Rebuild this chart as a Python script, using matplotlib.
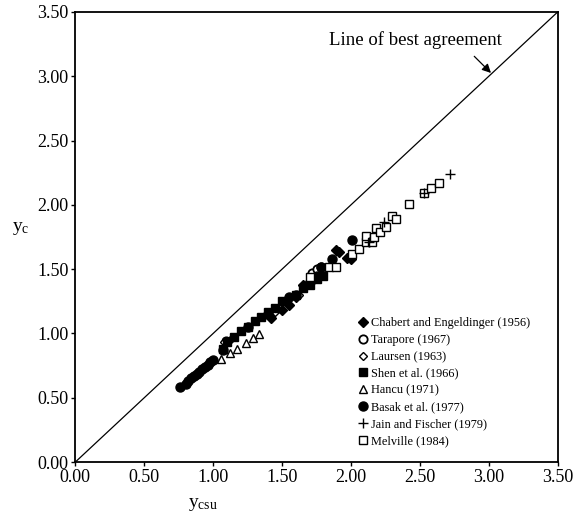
import matplotlib
matplotlib.use("Agg")
import matplotlib.pyplot as plt

plt.rcParams['font.family'] = ['Liberation Serif', 'DejaVu Serif']
plt.rcParams['mathtext.default'] = 'regular'

# ---- data (y_csu, y_c) ----
chabert_x = [1.42, 1.50, 1.55, 1.60, 1.65, 1.70, 1.89, 1.91, 1.97, 2.00]
chabert_y = [1.12, 1.18, 1.22, 1.28, 1.38, 1.40, 1.65, 1.63, 1.59, 1.58]

tarapore_x = [1.09, 1.72, 1.75, 1.78]
tarapore_y = [0.94, 1.47, 1.50, 1.52]

laursen_x = [1.08, 1.12, 1.45, 1.62]
laursen_y = [0.93, 0.95, 1.17, 1.30]

shen_x = [1.07, 1.10, 1.15, 1.20, 1.25, 1.30, 1.35, 1.40, 1.45, 1.50, 1.60, 1.65, 1.70, 1.75, 1.80]
shen_y = [0.88, 0.93, 0.97, 1.02, 1.05, 1.10, 1.13, 1.17, 1.20, 1.25, 1.30, 1.35, 1.38, 1.42, 1.45]

hancu_x = [1.06, 1.12, 1.175, 1.235, 1.29, 1.33]
hancu_y = [0.80, 0.845, 0.876, 0.928, 0.967, 0.998]

basak_x = [0.76, 0.80, 0.82, 0.84, 0.86, 0.88, 0.90, 0.92, 0.94, 0.96, 0.98, 1.00,
           1.07, 1.25, 1.40, 1.55, 1.60, 1.70, 1.75, 1.78, 1.86, 2.01]
basak_y = [0.585, 0.61, 0.63, 0.65, 0.67, 0.685, 0.70, 0.72, 0.74, 0.755, 0.775, 0.79,
           0.87, 1.05, 1.15, 1.28, 1.30, 1.40, 1.45, 1.52, 1.58, 1.73]

jain_x = [2.13, 2.24, 2.53, 2.72]
jain_y = [1.71, 1.87, 2.09, 2.24]

melville_x = [1.70, 1.84, 1.89, 2.01, 2.06, 2.11, 2.11, 2.15, 2.17, 2.18, 2.21, 2.255,
              2.30, 2.33, 2.42, 2.53, 2.58, 2.64]
melville_y = [1.44, 1.52, 1.52, 1.615, 1.66, 1.71, 1.757, 1.71, 1.75, 1.82, 1.786, 1.825,
              1.91, 1.89, 2.006, 2.09, 2.13, 2.17]

labels = ['Chabert and Engeldinger (1956)', 'Tarapore (1967)', 'Laursen (1963)',
          'Shen et al. (1966)', 'Hancu (1971)', 'Basak et al. (1977)',
          'Jain and Fischer (1979)', 'Melville (1984)']

fig = plt.figure(figsize=(5.75, 5.18), dpi=100)
ax = fig.add_axes([0.131, 0.108, 0.839, 0.869])

ax.plot([0, 3.5], [0, 3.5], color='black', lw=0.9, zorder=1)

ms = 6
ax.plot(chabert_x, chabert_y, 'D', color='black', ms=ms - 1, ls='none', label=labels[0], zorder=3)
ax.plot(tarapore_x, tarapore_y, 'o', mfc='white', mec='black', mew=1.3, ms=ms, ls='none', label=labels[1], zorder=3)
ax.plot(laursen_x, laursen_y, 'D', mfc='white', mec='black', mew=1.0, ms=ms - 1.5, ls='none', label=labels[2], zorder=3)
ax.plot(shen_x, shen_y, 's', color='black', ms=ms, ls='none', label=labels[3], zorder=3)
ax.plot(hancu_x, hancu_y, '^', mfc='white', mec='black', mew=1.0, ms=ms, ls='none', label=labels[4], zorder=3)
ax.plot(basak_x, basak_y, 'o', color='black', ms=ms + 0.5, ls='none', label=labels[5], zorder=3)
ax.plot(jain_x, jain_y, '+', color='black', mew=1.0, ms=ms + 1, ls='none', label=labels[6], zorder=4)
ax.plot(melville_x, melville_y, 's', mfc='white', mec='black', mew=1.0, ms=ms - 0.5, ls='none', label=labels[7], zorder=3)

ax.set_xlim(0, 3.5)
ax.set_ylim(0, 3.5)
ticks = [0, 0.5, 1.0, 1.5, 2.0, 2.5, 3.0, 3.5]
ax.set_xticks(ticks)
ax.set_yticks(ticks)
ax.set_xticklabels([f'{t:.2f}' for t in ticks])
ax.set_yticklabels([f'{t:.2f}' for t in ticks])
ax.tick_params(direction='out', length=3, width=1, labelsize=13, pad=2)
for s in ax.spines.values():
    s.set_linewidth(1.3)

ax.set_xlabel(r'$y_{csu}$', fontsize=14, labelpad=2)
ax.set_ylabel(r'$y_{c}$', fontsize=14, rotation=0, labelpad=18)
ax.yaxis.set_label_coords(-0.113, 0.50)
ax.xaxis.set_label_coords(0.265, -0.075)

ax.annotate('Line of best agreement', xy=(3.03, 3.01), xytext=(1.84, 3.28),
            fontsize=13.5, va='center', ha='left')
ax.annotate('', xy=(3.03, 3.01), xytext=(2.88, 3.17),
            arrowprops=dict(arrowstyle='-|>', color='black', lw=0.9, mutation_scale=13))

leg = ax.legend(loc='lower left', bbox_to_anchor=(0.57, 0.022), frameon=False,
                fontsize=8.8, handletextpad=0.1, handlelength=1.2, labelspacing=0.4,
                borderaxespad=0)

fig.savefig('out.png', dpi=100)
